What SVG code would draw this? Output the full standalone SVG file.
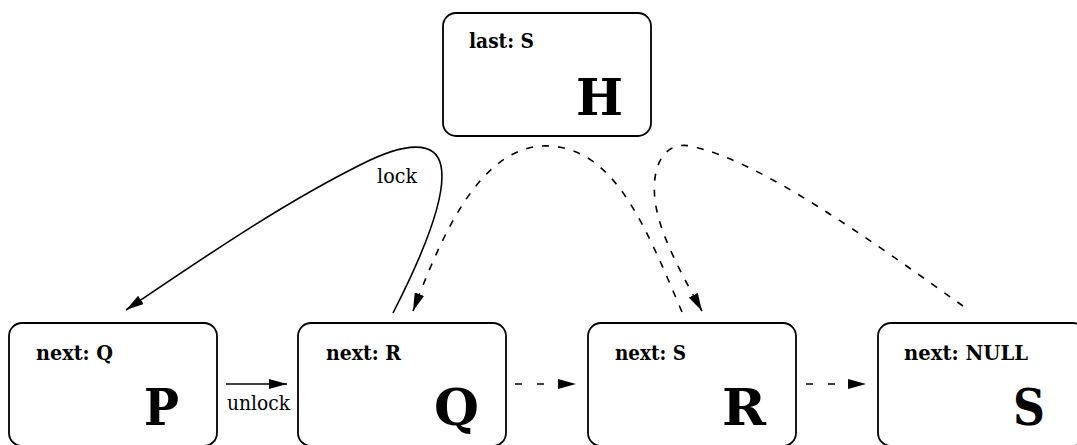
<svg xmlns="http://www.w3.org/2000/svg" width="1077" height="445" viewBox="0 0 1077 445">
  <defs>
    <marker id="head" markerUnits="userSpaceOnUse" markerWidth="18" markerHeight="10" refX="18" refY="5" orient="auto">
      <path d="M0,0 L18,5 L0,10 z" fill="#000"/>
    </marker>
    <style>
      .box { fill: #fff; stroke: #000; stroke-width: 1.8; }
      text { font-family: 'DejaVu Serif', serif; fill: #000; }
      .field { font-weight: bold; font-size: 20.5px; }
      .name { font-weight: bold; font-size: 51px; }
      .label { font-size: 19.5px; }
      .edge { fill: none; stroke: #000; stroke-width: 1.6; marker-end: url(#head); }
      .dashed { stroke-dasharray: 7 9; }
      .short { stroke-dasharray: 7 15; }
    </style>
  </defs>
  <rect width="1077" height="445" fill="#fff"/>

  <!-- list head -->
  <g id="node-H">
    <rect class="box" x="443" y="13" width="208" height="123" rx="13"/>
    <text class="field" x="469" y="48" textLength="65" lengthAdjust="spacingAndGlyphs">last: S</text>
    <text class="name" x="576" y="115" textLength="47" lengthAdjust="spacingAndGlyphs">H</text>
  </g>

  <!-- list elements -->
  <g id="node-P">
    <rect class="box" x="9" y="323" width="208" height="123" rx="13"/>
    <text class="field" x="36" y="360" textLength="77" lengthAdjust="spacingAndGlyphs">next: Q</text>
    <text class="name" x="144" y="425" textLength="35" lengthAdjust="spacingAndGlyphs">P</text>
  </g>
  <g id="node-Q">
    <rect class="box" x="298" y="323" width="208" height="123" rx="13"/>
    <text class="field" x="326" y="360" textLength="75" lengthAdjust="spacingAndGlyphs">next: R</text>
    <text class="name" x="434" y="425" textLength="45" lengthAdjust="spacingAndGlyphs">Q</text>
  </g>
  <g id="node-R">
    <rect class="box" x="588" y="323" width="208" height="123" rx="13"/>
    <text class="field" x="615" y="360" textLength="71" lengthAdjust="spacingAndGlyphs">next: S</text>
    <text class="name" x="722" y="425" textLength="44" lengthAdjust="spacingAndGlyphs">R</text>
  </g>
  <g id="node-S">
    <rect class="box" x="878" y="323" width="208" height="123" rx="13"/>
    <text class="field" x="904" y="360" textLength="124" lengthAdjust="spacingAndGlyphs">next: NULL</text>
    <text class="name" x="1013" y="425" textLength="32" lengthAdjust="spacingAndGlyphs">S</text>
  </g>

  <!-- connectors -->
  <g id="connectors">
    <path class="edge" d="M393,313 C415,270 448,200 441,166 C436,140 405,142 360,165 C280,205 200,260 126,310"/>
    <text class="label" x="377" y="183" textLength="40" lengthAdjust="spacingAndGlyphs">lock</text>

    <path class="edge" d="M226,384 L287,384"/>
    <text class="label" x="227" y="410" textLength="63" lengthAdjust="spacingAndGlyphs">unlock</text>

    <path class="edge short" d="M515,384 L576,384"/>
    <path class="edge short" d="M806,384 L866,384"/>

    <path class="edge dashed" d="M682,312 C645,225 615,150 550,146 C480,142 440,240 413,311"/>
    <path class="edge dashed" d="M963,306 C870,240 760,160 690,146 C665,141 651,165 655,200 C659,235 685,280 702,311"/>
  </g>
</svg>
